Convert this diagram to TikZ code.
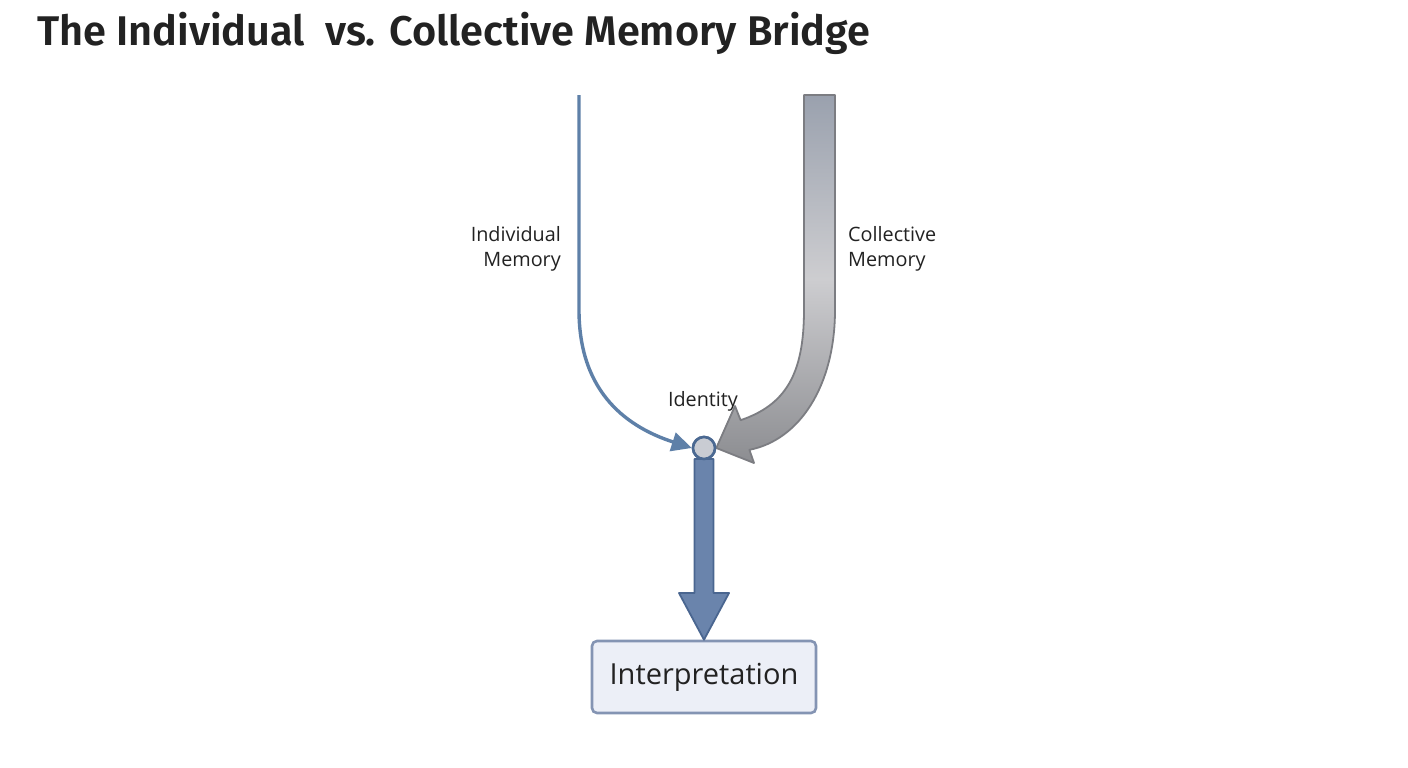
\documentclass[tikz,border=0pt]{standalone}
\usepackage{fontspec}
\setmainfont{Open Sans}
\newfontfamily\titlefont{Fira Sans}[BoldFont={Fira Sans SemiBold}]
\usetikzlibrary{arrows.meta}
\definecolor{bgc}{HTML}{FFFFFF}
\definecolor{indline}{HTML}{5E80A8}
\definecolor{grayedge}{HTML}{7C7D82}
\definecolor{graytop}{HTML}{9AA1AE}
\definecolor{graymid}{HTML}{CDCDD0}
\definecolor{graybot}{HTML}{8C8D91}
\definecolor{nodefill}{HTML}{C9CCD3}
\definecolor{nodeedge}{HTML}{4B6992}
\definecolor{bluefill}{HTML}{6A84AC}
\definecolor{blueedge}{HTML}{4A6690}
\definecolor{boxfill}{HTML}{ECEFF7}
\definecolor{boxedge}{HTML}{8494B3}
\definecolor{txt}{HTML}{222222}
\tikzset{
  lbl/.style={font=\fontsize{19.8}{25}\selectfont, text=txt, inner sep=0pt, align=#1},
  lbl/.default=center,
  idnode/.style={circle, draw=nodeedge, fill=nodefill, line width=2.6pt, minimum size=22pt, inner sep=0pt},
}
\begin{document}
\begin{tikzpicture}[x=1pt,y=-1pt]
\useasboundingbox (0,0) rectangle (1408,768);
\fill[bgc] (0,0) rectangle (1408,768);
% title
\node[anchor=base west, inner sep=0pt, text=txt] (title) at (37,46)
  {\resizebox{833pt}{!}{\titlefont\bfseries\fontsize{40}{48}\selectfont The Individual\ \ vs. Collective Memory Bridge}};
% identity node
\node[idnode] (id) at (704,448) {};
\node[lbl] (idl) at (703,401) {Identity};
% individual memory line
\coordinate (indtop) at (579,95);
\draw[indline, line width=3.4pt, -{Triangle[length=20pt,width=19pt]}]
  (indtop) -- (579,310) .. controls (579,395) and (630,428) .. (id.west);
\node[lbl=right, anchor=east] (indl) at (561,249) {Individual\\Memory};
% collective memory thick arrow
\coordinate (coltop) at (819,95);
\path[draw=grayedge, line width=1.8pt, line join=round, top color=graytop, bottom color=graybot, middle color=graymid]
  (804,95) -- (835,95) -- (835,310) .. controls (835,385) and (800,440) .. (749.4,449.8)
  -- (754,463) -- (id.east) -- (735,406) -- (740.6,420.2)
  .. controls (785,405) and (804,375) .. (804,310) -- cycle;
\node[lbl=left, anchor=west] (coll) at (848,249) {Collective\\Memory};
% interpretation box
\node[draw=boxedge, fill=boxfill, line width=2.6pt, rounded corners=5pt, minimum width=224pt, minimum height=72pt, inner sep=0pt,
  font=\fontsize{29}{36}\selectfont, text=txt] (interp) at (704,677) {Interpretation};
% thick blue arrow
\path[draw=blueedge, fill=bluefill, line width=1.8pt, line join=round]
  (694.5,459) -- (713.5,459) -- (713.5,593) -- (729,593) -- (interp.north) -- (679,593) -- (694.5,593) -- cycle;
\node[idnode] at (id) {};
\end{tikzpicture}
\end{document}
